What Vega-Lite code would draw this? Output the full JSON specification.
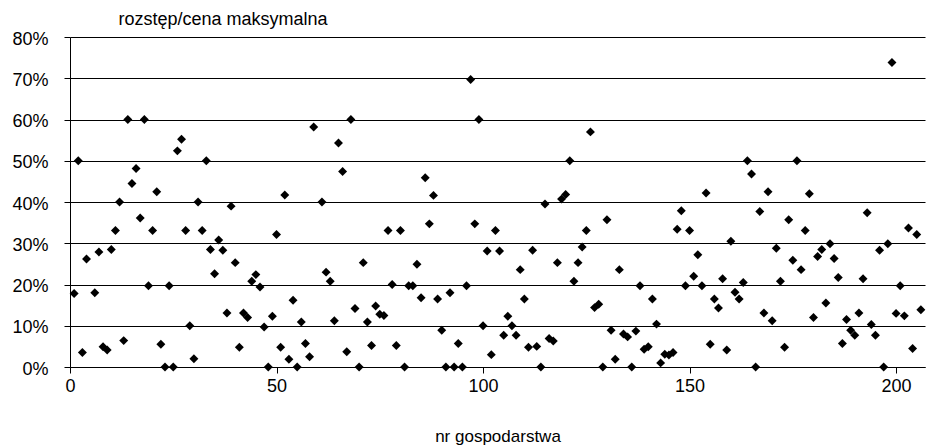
{
  "$schema": "https://vega.github.io/schema/vega-lite/v6.json",
  "autosize": {"type": "none"},
  "padding": {"left": 70, "top": 37, "right": 1, "bottom": 78},
  "width": 855,
  "height": 330,
  "background": "white",
  "config": {
    "view": {"stroke": null},
    "font": "Liberation Sans",
    "axis": {
      "labelFont": "Liberation Sans",
      "titleFont": "Liberation Sans",
      "labelFontSize": 18,
      "titleFontSize": 18,
      "labelColor": "#000",
      "titleColor": "#000",
      "titleFontWeight": "normal",
      "domainColor": "#000",
      "domainWidth": 1,
      "tickColor": "#000",
      "tickSize": 6,
      "tickWidth": 1
    }
  },
  "data": {
    "values": [
      {"nr": 1, "v": 0.178}, {"nr": 2, "v": 0.50}, {"nr": 3, "v": 0.035}, {"nr": 4, "v": 0.262},
      {"nr": 6, "v": 0.18}, {"nr": 7, "v": 0.279}, {"nr": 8, "v": 0.049}, {"nr": 9, "v": 0.041},
      {"nr": 10, "v": 0.285}, {"nr": 11, "v": 0.331}, {"nr": 12, "v": 0.40}, {"nr": 13, "v": 0.064},
      {"nr": 14, "v": 0.60}, {"nr": 15, "v": 0.445}, {"nr": 16, "v": 0.481}, {"nr": 17, "v": 0.361},
      {"nr": 18, "v": 0.60}, {"nr": 19, "v": 0.197}, {"nr": 20, "v": 0.331}, {"nr": 21, "v": 0.425},
      {"nr": 22, "v": 0.055}, {"nr": 23, "v": 0.0}, {"nr": 24, "v": 0.197}, {"nr": 25, "v": 0.0},
      {"nr": 26, "v": 0.524}, {"nr": 27, "v": 0.552}, {"nr": 28, "v": 0.331}, {"nr": 29, "v": 0.10},
      {"nr": 30, "v": 0.02}, {"nr": 31, "v": 0.40}, {"nr": 32, "v": 0.331}, {"nr": 33, "v": 0.50},
      {"nr": 34, "v": 0.285}, {"nr": 35, "v": 0.226}, {"nr": 36, "v": 0.308}, {"nr": 37, "v": 0.283},
      {"nr": 38, "v": 0.131}, {"nr": 39, "v": 0.39}, {"nr": 40, "v": 0.253}, {"nr": 41, "v": 0.048},
      {"nr": 42, "v": 0.131}, {"nr": 43, "v": 0.12}, {"nr": 44, "v": 0.208}, {"nr": 45, "v": 0.224},
      {"nr": 46, "v": 0.194}, {"nr": 47, "v": 0.097}, {"nr": 48, "v": 0.0}, {"nr": 49, "v": 0.123},
      {"nr": 50, "v": 0.321}, {"nr": 51, "v": 0.048}, {"nr": 52, "v": 0.417}, {"nr": 53, "v": 0.019},
      {"nr": 54, "v": 0.162}, {"nr": 55, "v": 0.0}, {"nr": 56, "v": 0.109}, {"nr": 57, "v": 0.057},
      {"nr": 58, "v": 0.025}, {"nr": 59, "v": 0.582}, {"nr": 61, "v": 0.40}, {"nr": 62, "v": 0.23},
      {"nr": 63, "v": 0.208}, {"nr": 64, "v": 0.112}, {"nr": 65, "v": 0.543}, {"nr": 66, "v": 0.474},
      {"nr": 67, "v": 0.037}, {"nr": 68, "v": 0.60}, {"nr": 69, "v": 0.142}, {"nr": 70, "v": 0.0},
      {"nr": 71, "v": 0.253}, {"nr": 72, "v": 0.109}, {"nr": 73, "v": 0.052}, {"nr": 74, "v": 0.148},
      {"nr": 75, "v": 0.128}, {"nr": 76, "v": 0.125}, {"nr": 77, "v": 0.331}, {"nr": 78, "v": 0.20},
      {"nr": 79, "v": 0.052}, {"nr": 80, "v": 0.331}, {"nr": 81, "v": 0.0}, {"nr": 82, "v": 0.197},
      {"nr": 83, "v": 0.197}, {"nr": 84, "v": 0.249}, {"nr": 85, "v": 0.168}, {"nr": 86, "v": 0.459},
      {"nr": 87, "v": 0.347}, {"nr": 88, "v": 0.416}, {"nr": 89, "v": 0.165}, {"nr": 90, "v": 0.089},
      {"nr": 91, "v": 0.0}, {"nr": 92, "v": 0.18}, {"nr": 93, "v": 0.0}, {"nr": 94, "v": 0.057},
      {"nr": 95, "v": 0.0}, {"nr": 96, "v": 0.197}, {"nr": 97, "v": 0.697}, {"nr": 98, "v": 0.347},
      {"nr": 99, "v": 0.60}, {"nr": 100, "v": 0.10}, {"nr": 101, "v": 0.281}, {"nr": 102, "v": 0.03},
      {"nr": 103, "v": 0.331}, {"nr": 104, "v": 0.281}, {"nr": 105, "v": 0.077}, {"nr": 106, "v": 0.123},
      {"nr": 107, "v": 0.10}, {"nr": 108, "v": 0.077}, {"nr": 109, "v": 0.236}, {"nr": 110, "v": 0.165},
      {"nr": 111, "v": 0.048}, {"nr": 112, "v": 0.283}, {"nr": 113, "v": 0.05}, {"nr": 114, "v": 0.0},
      {"nr": 115, "v": 0.395}, {"nr": 116, "v": 0.069}, {"nr": 117, "v": 0.063}, {"nr": 118, "v": 0.253},
      {"nr": 119, "v": 0.407}, {"nr": 120, "v": 0.418}, {"nr": 121, "v": 0.50}, {"nr": 122, "v": 0.208},
      {"nr": 123, "v": 0.253}, {"nr": 124, "v": 0.291}, {"nr": 125, "v": 0.331}, {"nr": 126, "v": 0.57},
      {"nr": 127, "v": 0.144}, {"nr": 128, "v": 0.152}, {"nr": 129, "v": 0.0}, {"nr": 130, "v": 0.357},
      {"nr": 131, "v": 0.089}, {"nr": 132, "v": 0.019}, {"nr": 133, "v": 0.236}, {"nr": 134, "v": 0.08},
      {"nr": 135, "v": 0.073}, {"nr": 136, "v": 0.0}, {"nr": 137, "v": 0.087}, {"nr": 138, "v": 0.197},
      {"nr": 139, "v": 0.043}, {"nr": 140, "v": 0.049}, {"nr": 141, "v": 0.165}, {"nr": 142, "v": 0.104},
      {"nr": 143, "v": 0.01}, {"nr": 144, "v": 0.031}, {"nr": 145, "v": 0.029}, {"nr": 146, "v": 0.035},
      {"nr": 147, "v": 0.334}, {"nr": 148, "v": 0.379}, {"nr": 149, "v": 0.197}, {"nr": 150, "v": 0.331},
      {"nr": 151, "v": 0.22}, {"nr": 152, "v": 0.272}, {"nr": 153, "v": 0.197}, {"nr": 154, "v": 0.422},
      {"nr": 155, "v": 0.055}, {"nr": 156, "v": 0.165}, {"nr": 157, "v": 0.143}, {"nr": 158, "v": 0.214},
      {"nr": 159, "v": 0.041}, {"nr": 160, "v": 0.305}, {"nr": 161, "v": 0.181}, {"nr": 162, "v": 0.165},
      {"nr": 163, "v": 0.205}, {"nr": 164, "v": 0.50}, {"nr": 165, "v": 0.468}, {"nr": 166, "v": 0.0},
      {"nr": 167, "v": 0.377}, {"nr": 168, "v": 0.131}, {"nr": 169, "v": 0.425}, {"nr": 170, "v": 0.112},
      {"nr": 171, "v": 0.288}, {"nr": 172, "v": 0.208}, {"nr": 173, "v": 0.048}, {"nr": 174, "v": 0.357},
      {"nr": 175, "v": 0.259}, {"nr": 176, "v": 0.50}, {"nr": 177, "v": 0.236}, {"nr": 178, "v": 0.331},
      {"nr": 179, "v": 0.42}, {"nr": 180, "v": 0.12}, {"nr": 181, "v": 0.268}, {"nr": 182, "v": 0.285},
      {"nr": 183, "v": 0.155}, {"nr": 184, "v": 0.299}, {"nr": 185, "v": 0.263}, {"nr": 186, "v": 0.217},
      {"nr": 187, "v": 0.057}, {"nr": 188, "v": 0.115}, {"nr": 189, "v": 0.089}, {"nr": 190, "v": 0.077},
      {"nr": 191, "v": 0.131}, {"nr": 192, "v": 0.214}, {"nr": 193, "v": 0.374}, {"nr": 194, "v": 0.103},
      {"nr": 195, "v": 0.077}, {"nr": 196, "v": 0.283}, {"nr": 197, "v": 0.0}, {"nr": 198, "v": 0.299},
      {"nr": 199, "v": 0.738}, {"nr": 200, "v": 0.13}, {"nr": 201, "v": 0.197}, {"nr": 202, "v": 0.124},
      {"nr": 203, "v": 0.337}, {"nr": 204, "v": 0.045}, {"nr": 205, "v": 0.321}, {"nr": 206, "v": 0.139}
    ]
  },
  "mark": {"type": "point", "shape": "diamond", "filled": true, "color": "#000", "opacity": 1, "size": 80},
  "encoding": {
    "x": {
      "field": "nr",
      "type": "quantitative",
      "scale": {"domain": [0, 207], "nice": false, "zero": false},
      "axis": {
        "values": [0, 50, 100, 150, 200],
        "grid": false,
        "labelPadding": 4,
        "labelFlush": false,
        "title": "nr gospodarstwa",
        "titleFontSize": 17,
        "titleY": 74,
        "titleBaseline": "alphabetic"
      }
    },
    "y": {
      "field": "v",
      "type": "quantitative",
      "scale": {"domain": [0, 0.8], "nice": false},
      "axis": {
        "values": [0, 0.1, 0.2, 0.3, 0.4, 0.5, 0.6, 0.7, 0.8],
        "format": ".0%",
        "grid": true,
        "gridColor": "#000",
        "gridWidth": 1,
        "gridOpacity": 1,
        "labelPadding": 16,
        "labelFlush": false,
        "labelBaseline": "middle",
        "labelOffset": 2,
        "title": "rozstęp/cena maksymalna",
        "titleAngle": 0,
        "titleAlign": "left",
        "titleBaseline": "alphabetic",
        "titleX": 48,
        "titleY": -13
      }
    }
  }
}
